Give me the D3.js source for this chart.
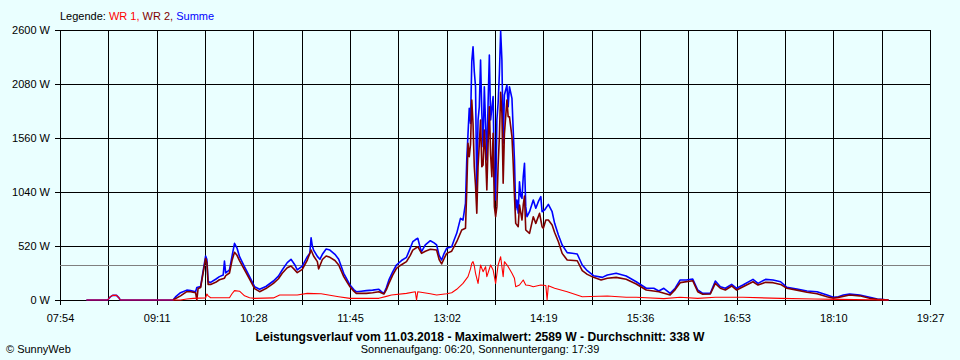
<!DOCTYPE html>
<html lang="de">
<head>
<meta charset="UTF-8">
<title>Leistungsverlauf 11.03.2018</title>
<script src="https://d3js.org/d3.v7.min.js"></script>
<style>
    body {
        margin: 0;
        background-color: #eaffff;
        font-family: "Liberation Sans", Arial, sans-serif;
    }
    svg text { font-family: "Liberation Sans", Arial, sans-serif; }
    .grid line { stroke: #000; stroke-width: 1px; shape-rendering: crispEdges; }
    .grid path { display: none; }
    .axis path, .axis line { stroke: #000; stroke-width: 1px; shape-rendering: crispEdges; }
    .axis text { font-size: 11px; fill: #000; }
    .series { fill: none; stroke-linejoin: round; }
</style>
</head>
<body>
<div id="chart"></div>
<script>
// x axis: 07:54 .. 19:27, a tick every 38.5 min, label on every second one
const xStart = "07:54", xEnd = "19:27";
const yTicks = [0, 520, 1040, 1560, 2080, 2600];
const average = 338;

// Summe (blue)
const summe = [
    ["08:15",0],["08:32",0],["08:34",30],["08:36",45],["08:39",45],["08:41",20],["08:42",0],
    ["09:24",0],["09:26",30],["09:30",70],["09:35",95],["09:38",90],["09:42",80],["09:43",120],
    ["09:46",130],["09:50",424],["09:51",390],["09:52",175],["09:54",170],["09:58",200],["10:01",225],
    ["10:04",240],["10:05",375],["10:06",260],["10:09",290],["10:11",420],["10:13",545],["10:15",500],
    ["10:17",417],["10:21",320],["10:25",225],["10:29",128],["10:33",103],["10:38",130],["10:44",183],
    ["10:48",230],["10:51",289],["10:55",360],["10:58",392],["11:01",340],["11:03",289],["11:07",327],
    ["11:11",417],["11:13",450],["11:14",600],["11:15",520],["11:16",481],["11:19",420],["11:21",392],
    ["11:23",440],["11:26",491],["11:29",481],["11:33",440],["11:36",392],["11:40",257],["11:43",190],
    ["11:45",144],["11:48",100],["11:50",80],["11:54",85],["11:58",90],["12:03",95],["12:08",103],
    ["12:10",80],["12:12",64],["12:14",120],["12:16",193],["12:19",270],["12:22",337],["12:26",380],
    ["12:30",411],["12:33",500],["12:35",561],["12:37",580],["12:39",594],["12:41",500],["12:42",465],
    ["12:45",530],["12:49",571],["12:52",550],["12:54",530],["12:56",430],["12:58",385],["13:00",450],
    ["13:02",498],["13:06",513],["13:08",580],["13:10",642],["13:13",786],["13:15",770],["13:16",850],
    ["13:17",931],["13:18",1348],["13:19",1600],["13:20",1846],["13:21",1701],["13:22",2295],["13:23",2439],
    ["13:24",2200],["13:25",2054],["13:26",1059],["13:27",1733],["13:28",1861],["13:29",2311],["13:30",1800],
    ["13:31",1476],["13:32",2054],["13:33",1700],["13:34",1348],["13:35",1900],["13:36",2359],["13:37",1733],
    ["13:38",1850],["13:39",1958],["13:40",1156],["13:41",963],["13:42",1733],["13:43",1900],["13:44",2183],
    ["13:45",2589],["13:46",2311],["13:47",1509],["13:48",1974],["13:50",2070],["13:51",1861],["13:52",2054],
    ["13:54",1942],["13:55",1637],["13:56",1348],["13:57",867],["13:58",963],["13:59",835],["14:00",1139],
    ["14:01",1000],["14:02",979],["14:03",1187],["14:04",1316],["14:05",899],["14:06",802],["14:08",850],
    ["14:11",963],["14:13",883],["14:15",947],["14:17",995],["14:18",850],["14:20",867],["14:23",921],
    ["14:26",850],["14:28",738],["14:31",626],["14:34",530],["14:38",456],["14:42",450],["14:46",443],
    ["14:50",337],["14:54",282],["14:59",234],["15:06",218],["15:10",241],["15:17",257],["15:25",231],
    ["15:33",176],["15:41",113],["15:47",113],["15:51",87],["15:55",113],["16:00",64],["16:04",113],
    ["16:08",193],["16:13",193],["16:18",202],["16:22",96],["16:26",64],["16:32",64],["16:36",183],
    ["16:40",128],["16:44",113],["16:49",151],["16:53",113],["16:58",144],["17:06",199],["17:10",160],
    ["17:16",199],["17:22",193],["17:28",176],["17:33",122],["17:41",106],["17:49",87],["17:57",80],
    ["18:05",48],["18:10",26],["18:14",32],["18:18",48],["18:23",58],["18:31",48],["18:39",26],
    ["18:45",10],["18:54",0]
];

// WR 2 (dark red)
const wr2 = [
    ["09:24",0],["09:30",40],["09:35",80],["09:38",80],["09:42",70],["09:43",0],["09:44",110],
    ["09:46",120],["09:50",400],["09:51",360],["09:52",150],["09:54",150],["09:58",170],["10:01",195],
    ["10:05",210],["10:06",235],["10:09",260],["10:11",380],["10:13",460],["10:15",430],["10:17",380],
    ["10:21",290],["10:25",200],["10:29",110],["10:33",80],["10:38",110],["10:44",160],["10:48",205],
    ["10:51",257],["10:55",310],["10:58",327],["11:01",290],["11:03",263],["11:07",295],["11:11",385],
    ["11:14",481],["11:16",424],["11:19",370],["11:20",300],["11:21",330],["11:23",390],["11:26",424],
    ["11:29",411],["11:33",380],["11:36",337],["11:40",225],["11:43",165],["11:45",128],["11:48",85],
    ["11:50",64],["11:58",64],["12:03",70],["12:08",80],["12:12",58],["12:14",100],["12:16",160],
    ["12:19",240],["12:22",305],["12:26",340],["12:30",369],["12:33",430],["12:35",481],["12:39",513],
    ["12:42",449],["12:45",470],["12:49",488],["12:54",481],["12:56",390],["12:58",347],["13:00",400],
    ["13:02",449],["13:06",470],["13:10",561],["13:14",674],["13:17",690],["13:18",1059],["13:19",1509],
    ["13:20",1380],["13:21",1500],["13:22",1926],["13:23",1700],["13:24",1284],["13:25",1100],["13:26",835],
    ["13:27",1284],["13:28",1500],["13:29",1733],["13:30",1284],["13:31",1300],["13:32",1637],["13:33",1400],
    ["13:34",1059],["13:35",1500],["13:36",1861],["13:37",1400],["13:38",1187],["13:39",1605],["13:40",900],
    ["13:41",802],["13:42",899],["13:43",1300],["13:44",1573],["13:45",2000],["13:46",1800],["13:47",1124],
    ["13:48",1600],["13:50",1925],["13:51",1765],["13:52",1765],["13:54",1573],["13:55",1316],["13:56",1000],
    ["13:57",738],["13:59",706],["14:00",915],["14:02",770],["14:03",915],["14:04",1000],["14:05",674],
    ["14:08",642],["14:11",802],["14:13",738],["14:16",835],["14:18",706],["14:19",690],["14:21",770],
    ["14:23",770],["14:26",722],["14:28",650],["14:31",561],["14:34",449],["14:38",385],["14:46",378],
    ["14:50",282],["14:54",247],["14:59",218],["15:05",193],["15:10",209],["15:17",218],["15:25",199],
    ["15:33",154],["15:41",96],["15:51",80],["16:00",48],["16:04",100],["16:08",167],["16:18",186],
    ["16:22",80],["16:26",55],["16:32",58],["16:36",160],["16:40",113],["16:44",96],["16:49",135],
    ["16:53",96],["17:06",176],["17:10",144],["17:16",170],["17:22",167],["17:28",150],["17:33",113],
    ["17:41",95],["17:49",74],["17:57",60],["18:05",32],["18:10",16],["18:14",25],["18:23",48],
    ["18:31",40],["18:39",16],["18:45",6],["18:54",0]
];

// WR 1 (red)
const wr1 = [
    ["08:15",0],["08:32",0],["08:34",30],["08:36",45],["08:39",45],["08:41",20],["08:42",0],
    ["09:30",0],["09:35",10],["09:40",16],["09:50",20],["09:51",58],["09:52",40],["09:54",22],
    ["10:09",22],["10:11",60],["10:13",90],["10:17",85],["10:21",40],["10:25",22],["10:29",16],
    ["10:44",20],["10:49",48],["11:03",48],["11:11",64],["11:22",60],["11:36",32],["11:45",16],
    ["12:08",16],["12:14",35],["12:18",48],["12:30",64],["12:37",80],["12:38",0],["12:39",80],
    ["12:49",60],["12:54",48],["13:02",60],["13:06",70],["13:10",103],["13:15",160],["13:19",225],
    ["13:21",300],["13:22",353],["13:23",369],["13:24",330],["13:25",257],["13:27",160],["13:28",250],
    ["13:29",337],["13:31",273],["13:33",321],["13:34",225],["13:37",337],["13:39",289],["13:41",160],
    ["13:43",337],["13:45",417],["13:47",225],["13:48",369],["13:51",321],["13:54",257],["13:56",209],
    ["13:57",128],["14:00",144],["14:03",193],["14:05",144],["14:08",140],["14:11",128],["14:17",144],
    ["14:21",140],["14:22",0],["14:23",138],["14:28",113],["14:38",80],["14:50",32],["15:10",38],["15:25",26],
    ["15:33",26],["15:55",13],["16:08",26],["16:22",16],["16:36",26],["16:58",26],["17:28",16],
    ["17:55",10],["18:14",6],["18:54",0]
];

const toMin = s => +s.slice(0, 2) * 60 + +s.slice(3, 5);
const fmtTime = m => String(Math.floor(m / 60)).padStart(2, "0") + ":" + String(Math.round(m % 60)).padStart(2, "0");

const width = 960, height = 360;
const plotLeft = 60, plotRight = 930, plotTop = 30, plotBottom = 300;

const svg = d3.select("#chart").append("svg")
    .attr("width", width)
    .attr("height", height);

const x = d3.scaleLinear().domain([toMin(xStart), toMin(xEnd)]).range([plotLeft, plotRight]);
const y = d3.scaleLinear().domain([0, 2600]).range([plotBottom, plotTop]);

const xTicks = d3.range(19).map(i => toMin(xStart) + i * 38.5);

// grid
svg.append("g")
    .attr("class", "grid")
    .attr("transform", `translate(0,${plotBottom})`)
    .call(d3.axisBottom(x).tickValues(xTicks).tickSize(-(plotBottom - plotTop)).tickFormat(""));
svg.append("g")
    .attr("class", "grid")
    .attr("transform", `translate(${plotLeft},0)`)
    .call(d3.axisLeft(y).tickValues(yTicks).tickSize(-(plotRight - plotLeft)).tickFormat(""));

// average line
svg.append("line")
    .attr("x1", plotLeft).attr("x2", plotRight)
    .attr("y1", Math.round(y(average))).attr("y2", Math.round(y(average)))
    .attr("stroke", "#808080")
    .attr("shape-rendering", "crispEdges");

// axes with ticks and labels
const xAxis = svg.append("g")
    .attr("class", "axis")
    .attr("transform", `translate(0,${plotBottom})`)
    .call(d3.axisBottom(x).tickValues(xTicks).tickSize(5).tickSizeOuter(0)
        .tickFormat((d, i) => i % 2 === 0 ? fmtTime(d) : ""));
xAxis.selectAll("text").attr("dy", "1.25em");
xAxis.select(".domain").remove();

const yAxis = svg.append("g")
    .attr("class", "axis")
    .attr("transform", `translate(${plotLeft},0)`)
    .call(d3.axisLeft(y).tickValues(yTicks).tickSize(5).tickSizeOuter(0).tickFormat(d => d + " W"));
yAxis.selectAll("text").attr("x", -10);
yAxis.select(".domain").remove();

// series
const line = d3.line()
    .x(d => x(toMin(d[0])))
    .y(d => y(d[1]));

const series = [
    { data: summe, color: "#0000ff", w: 1.6 },
    { data: wr2, color: "#800000", w: 1.6 },
    { data: wr1, color: "#ff0000", w: 1.1 }
];
svg.selectAll("path.series")
    .data(series)
    .enter().append("path")
    .attr("class", "series")
    .attr("d", d => line(d.data))
    .attr("stroke", d => d.color)
    .attr("stroke-width", d => d.w);

// legend
const legend = svg.append("text")
    .attr("x", plotLeft)
    .attr("y", 20)
    .attr("font-size", 11);
legend.append("tspan").attr("fill", "#000").text("Legende: ");
legend.append("tspan").attr("fill", "#ff0000").text("WR 1, ");
legend.append("tspan").attr("fill", "#800000").text("WR 2, ");
legend.append("tspan").attr("fill", "#0000ff").text("Summe");

// titles
svg.append("text")
    .attr("x", 480).attr("y", 341)
    .attr("text-anchor", "middle")
    .attr("font-size", 12)
    .attr("font-weight", "bold")
    .attr("textLength", 449)
    .attr("lengthAdjust", "spacingAndGlyphs")
    .text("Leistungsverlauf vom 11.03.2018 - Maximalwert: 2589 W - Durchschnitt: 338 W");

svg.append("text")
    .attr("x", 480).attr("y", 353)
    .attr("text-anchor", "middle")
    .attr("font-size", 11)
    .text("Sonnenaufgang: 06:20, Sonnenuntergang: 17:39");

svg.append("text")
    .attr("x", 6).attr("y", 353)
    .attr("font-size", 11)
    .text("© SunnyWeb");
</script>
</body>
</html>
